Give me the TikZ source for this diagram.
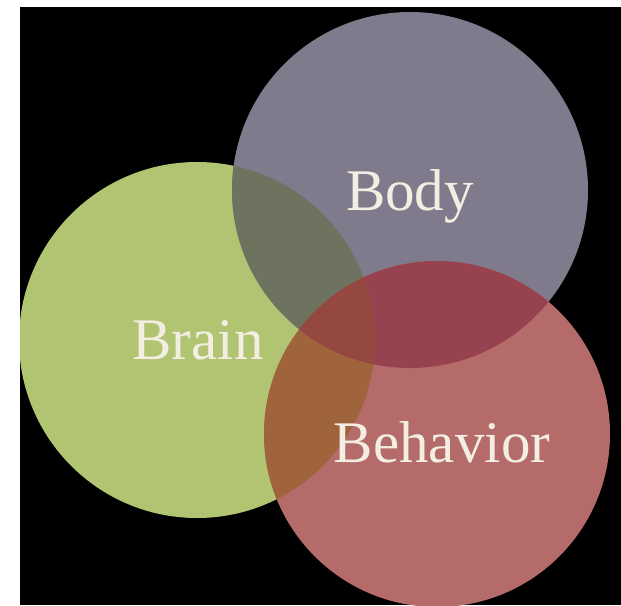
\documentclass[tikz,border=0pt]{standalone}
\usepackage{fontspec}
\setmainfont{Liberation Serif}
\definecolor{brainc}{HTML}{B0C472}
\definecolor{bodyc}{HTML}{7F7A8C}
\definecolor{behavc}{HTML}{B56B6A}
\definecolor{brainbody}{HTML}{6E735F}
\definecolor{bodybehav}{HTML}{96434F}
\definecolor{brainbehav}{HTML}{A0643C}
\definecolor{allthree}{HTML}{944840}
\definecolor{txt}{HTML}{F2EEE2}
\tikzset{lbl/.style={text=txt,font=\fontsize{59}{62}\selectfont,anchor=base,inner sep=0pt}}
\begin{document}
\begin{tikzpicture}[x=1pt,y=-1pt]
\useasboundingbox (0,0) rectangle (621,605);
\fill[white] (0,0) rectangle (621,605);
\fill[black] (20,7) rectangle (621,605);
\coordinate (cbody) at (410,190);
\coordinate (cbrain) at (197,340);
\coordinate (cbehav) at (437,434);
\begin{scope}
\clip (20,7) rectangle (621,605);
\fill[brainc] (cbrain) circle[radius=178];
\fill[bodyc] (cbody) circle[radius=178];
\fill[behavc] (cbehav) circle[radius=173];
\begin{scope}
\clip (cbrain) circle[radius=178];
\fill[brainbody] (cbody) circle[radius=178];
\fill[brainbehav] (cbehav) circle[radius=173];
\end{scope}
\begin{scope}
\clip (cbody) circle[radius=178];
\fill[bodybehav] (cbehav) circle[radius=173];
\clip (cbrain) circle[radius=178];
\fill[allthree] (cbehav) circle[radius=173];
\end{scope}
\end{scope}
\node[lbl] (body) at (410,210) {Body};
\node[lbl] (brain) at (198,359) {Brain};
\node[lbl] (behavior) at (442,462) {Behavior};
\end{tikzpicture}
\end{document}
